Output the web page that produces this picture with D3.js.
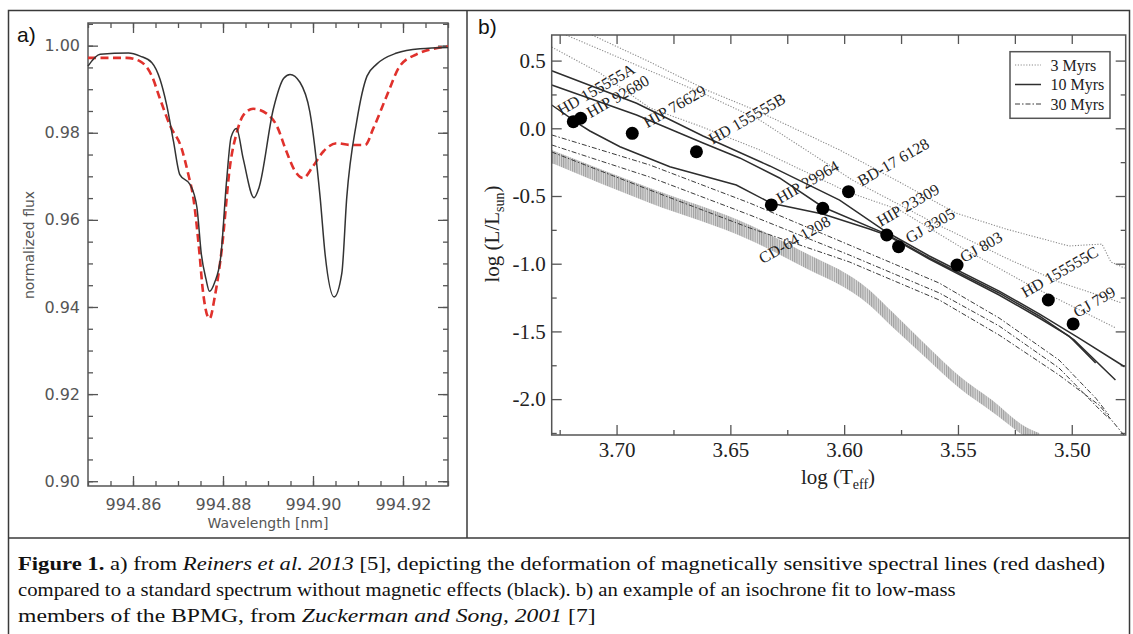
<!DOCTYPE html>
<html><head><meta charset="utf-8">
<script src="https://cdn.jsdelivr.net/npm/d3@7"></script>
<style>
html,body{margin:0;padding:0;background:#fff;}
svg{display:block;}
</style></head><body>
<svg id="fig" width="1133" height="634"></svg>
<script>
// ---------------- Panel a data (wavelength [nm], normalized flux) ----------------
const waveNoMag = [994.85,994.8527,994.859,994.8616,994.8642,994.866,994.8675,994.869,994.8704,994.8727,994.8742,994.8752,994.8762,994.877,994.8781,994.8795,994.8808,994.8818,994.883,994.8845,994.8869,994.888,994.8912,994.8935,994.8949,994.8971,994.8993,994.9016,994.9027,994.9047,994.9064,994.9075,994.9097,994.912,994.9141,994.9186,994.9238,994.93];
const fluxNoMag = [0.9953,0.998,0.9983,0.9976,0.9961,0.9923,0.9863,0.978,0.9704,0.9681,0.9629,0.952,0.9465,0.9436,0.9455,0.9515,0.969,0.979,0.981,0.974,0.9651,0.9674,0.9855,0.9925,0.9934,0.9916,0.9848,0.965,0.952,0.9423,0.9477,0.9651,0.9825,0.993,0.9957,0.9983,0.9993,0.9996];
const waveMag = [994.85,994.8586,994.8616,994.8642,994.866,994.8682,994.8708,994.8723,994.8734,994.8748,994.8755,994.877,994.8782,994.8797,994.8816,994.8831,994.8845,994.8867,994.8897,994.8919,994.8941,994.896,994.8978,994.9,994.9023,994.9053,994.9082,994.9116,994.9134,994.9164,994.9193,994.923,994.93];
const fluxMag = [0.9972,0.9972,0.9964,0.993,0.9878,0.9817,0.9764,0.9704,0.9651,0.952,0.944,0.9373,0.9425,0.953,0.9727,0.9802,0.984,0.9855,0.9844,0.9817,0.9757,0.9712,0.9696,0.9723,0.9757,0.9776,0.9772,0.9772,0.981,0.9885,0.9953,0.998,0.9998];
const waveTicks = [994.86,994.88,994.90,994.92];
const fluxTicks = [0.90,0.92,0.94,0.96,0.98,1.00];

// ---------------- Panel b data ([log Teff, log L/Lsun]) ----------------
const iso3Myr_1 = [[3.7108,0.689],[3.6854,0.490],[3.6605,0.283],[3.6371,0.120],[3.6020,-0.160],[3.5757,-0.397],[3.5509,-0.626],[3.5289,-0.744],[3.5012,-0.869],[3.4867,-0.855],[3.4828,-0.987],[3.4768,-1.032]];
const iso3Myr_2 = [[3.7222,0.689],[3.6985,0.519],[3.6605,0.246],[3.6371,0.061],[3.5964,-0.382],[3.5613,-0.692],[3.5289,-0.958],[3.5056,-1.135],[3.4780,-1.290]];
const iso3Myr_3 = [[3.7285,0.600],[3.7073,0.408],[3.6854,0.150],[3.6635,0.017],[3.6371,-0.160],[3.5985,-0.470],[3.5757,-0.603],[3.5481,-0.884],[3.5187,-1.157],[3.4806,-1.475]];
const iso10Myr_1 = [[3.7285,0.425],[3.6912,0.185],[3.6620,-0.057],[3.6327,-0.278],[3.6020,-0.530],[3.5814,-0.766],[3.5626,-0.943],[3.5319,-1.202],[3.5143,-1.371],[3.4968,-1.549],[3.4768,-1.761]];
const iso10Myr_2 = [[3.7285,0.320],[3.6912,0.098],[3.6620,-0.109],[3.6459,-0.219],[3.6284,-0.367],[3.6094,-0.581],[3.5814,-0.781],[3.5626,-0.958],[3.5319,-1.216],[3.5143,-1.386],[3.4990,-1.563],[3.4808,-1.859]];
const iso10Myr_3 = [[3.7285,0.172],[3.7158,0.024],[3.7117,-0.020],[3.6985,-0.136],[3.6766,-0.284],[3.6474,-0.419],[3.6320,-0.554],[3.6094,-0.633],[3.5889,-0.744],[3.5814,-0.789],[3.5626,-0.965],[3.5319,-1.231],[3.5143,-1.401],[3.5012,-1.534],[3.4895,-1.734]];
const iso30Myr_1 = [[3.7285,-0.049],[3.6854,-0.271],[3.6415,-0.552],[3.5977,-0.862],[3.5582,-1.143],[3.5319,-1.401],[3.5056,-1.711],[3.4894,-1.994],[3.4837,-2.117]];
const iso30Myr_2 = [[3.7285,-0.123],[3.6854,-0.360],[3.6415,-0.640],[3.5977,-0.936],[3.5582,-1.216],[3.5319,-1.460],[3.5056,-1.770],[3.4867,-2.095],[3.4828,-2.154]];
const iso30Myr_3 = [[3.7285,-0.175],[3.6854,-0.456],[3.6415,-0.736],[3.5977,-0.987],[3.5582,-1.268],[3.5319,-1.527],[3.5056,-1.822],[3.4880,-2.044],[3.4771,-2.265]];
// main-sequence band: logTeff, upper logL, lower logL
const bandT    = [3.7285,3.6854,3.6415,3.6196,3.5889,3.5788,3.5640,3.5494,3.5349,3.5202,3.5143];
const bandHigh = [-0.160,-0.441,-0.714,-0.899,-1.194,-1.357,-1.600,-1.829,-2.008,-2.206,-2.250];
const bandLow  = [-0.256,-0.552,-0.825,-1.010,-1.305,-1.467,-1.696,-1.918,-2.095,-2.280,-2.340];
// stars
const starNames = ["HD 155555A","HIP 92680","HIP 76629","HD 155555B","HIP 29964","CD-64 1208","BD-17 6128","HIP 23309","GJ 3305","GJ 803","HD 155555C","GJ 799"];
const starLogT  = [3.7190,3.7158,3.6931,3.6649,3.6320,3.6094,3.5981,3.5813,3.5761,3.5504,3.5103,3.4994];
const starLogL  = [0.049,0.074,-0.037,-0.173,-0.566,-0.591,-0.468,-0.788,-0.874,-1.010,-1.268,-1.445];
const tempTicks = [3.70,3.65,3.60,3.55,3.50];
const tempMinor = [3.725,3.675,3.625,3.575,3.525];
const lumTicks  = [0.5,0.0,-0.5,-1.0,-1.5,-2.0];
const lumMinor  = [0.25,-0.25,-0.75,-1.25,-1.75,-2.25];
const legendLabels = ["3 Myrs","10 Myrs","30 Myrs"];

// label offsets (layout, px) relative to each star
const labelOffsets = [[-12,-6],[10,0],[15,-5],[16,-7],[9,-1],[-60,56],[13,-5],[-6,-8],[11,-3],[7,-2],[-23,-2],[4,-6]];

const svg = d3.select("#fig");
const fmtMinus = f => (d => f(d).replace("\u2212","-"));

// ---------------- Figure frame ----------------
svg.append("rect").attr("x",8.5).attr("y",10.5).attr("width",1121).attr("height",660)
  .attr("fill","none").attr("stroke","#3a3a3a").attr("stroke-width",1.5);
svg.append("line").attr("x1",467).attr("x2",467).attr("y1",10).attr("y2",538).attr("stroke","#3a3a3a").attr("stroke-width",1.5);
svg.append("line").attr("x1",8).attr("x2",1130).attr("y1",538).attr("y2",538).attr("stroke","#3a3a3a").attr("stroke-width",1.5);

function styleAxis(sel, color, font, size, fill) {
  sel.attr("font-family",null).attr("font-size",null);
  sel.select(".domain").remove();
  sel.selectAll("line").attr("stroke",color).attr("stroke-width",1.3);
  sel.selectAll("text").style("font-family",font).style("font-size",size+"px").attr("fill",fill);
}

// ---------------- Panel a ----------------
const xA = d3.scaleLinear().domain([994.85,994.93]).range([88,448]);
const yA = d3.scaleLinear().domain([0.8989,1.0052]).range([486,23]);
const gA = svg.append("g");
const colA = "#555", fontA = "DejaVu Sans, sans-serif";
const waveMinor = d3.range(0,17).map(i => 994.85 + i*0.005);
const fluxMinor = d3.range(0,22).map(i => 0.90 + i*0.005);

gA.append("g").attr("transform","translate(88,0)")
  .call(d3.axisLeft(yA).tickValues(fluxTicks).tickSize(-10).tickPadding(8).tickFormat(d3.format(".2f")))
  .call(s=>styleAxis(s,colA,fontA,16,colA));
gA.append("g").attr("transform","translate(88,0)")
  .call(d3.axisLeft(yA).tickValues(fluxMinor).tickSize(-5).tickFormat(""))
  .call(s=>styleAxis(s,colA,fontA,16,colA));
gA.append("g").attr("transform","translate(448,0)")
  .call(d3.axisRight(yA).tickValues(fluxTicks).tickSize(-10).tickFormat(""))
  .call(s=>styleAxis(s,colA,fontA,16,colA));
gA.append("g").attr("transform","translate(448,0)")
  .call(d3.axisRight(yA).tickValues(fluxMinor).tickSize(-5).tickFormat(""))
  .call(s=>styleAxis(s,colA,fontA,16,colA));
gA.append("g").attr("transform","translate(0,486)")
  .call(d3.axisBottom(xA).tickValues(waveTicks).tickSize(-10).tickPadding(13).tickFormat(d3.format(".2f")))
  .call(s=>styleAxis(s,colA,fontA,16,colA));
gA.append("g").attr("transform","translate(0,486)")
  .call(d3.axisBottom(xA).tickValues(waveMinor).tickSize(-5).tickFormat(""))
  .call(s=>styleAxis(s,colA,fontA,16,colA));
gA.append("g").attr("transform","translate(0,23)")
  .call(d3.axisTop(xA).tickValues(waveTicks).tickSize(-10).tickFormat(""))
  .call(s=>styleAxis(s,colA,fontA,16,colA));
gA.append("g").attr("transform","translate(0,23)")
  .call(d3.axisTop(xA).tickValues(waveMinor).tickSize(-5).tickFormat(""))
  .call(s=>styleAxis(s,colA,fontA,16,colA));
gA.append("rect").attr("x",88).attr("y",23).attr("width",360).attr("height",463)
  .attr("fill","none").attr("stroke",colA).attr("stroke-width",1.5);

const lineA = d3.line().curve(d3.curveMonotoneX);
gA.append("path")
  .attr("d", lineA(waveMag.map((w,i)=>[xA(w),yA(fluxMag[i])])))
  .attr("fill","none").attr("stroke","#e0312c").attr("stroke-width",2.6).attr("stroke-dasharray","8,4.5");
gA.append("path")
  .attr("d", lineA(waveNoMag.map((w,i)=>[xA(w),yA(fluxNoMag[i])])))
  .attr("fill","none").attr("stroke","#333").attr("stroke-width",1.5);

gA.append("text").attr("transform","translate(34,245) rotate(-90)").attr("text-anchor","middle")
  .attr("font-family",fontA).attr("font-size",14).attr("fill",colA).text("normalized flux");
gA.append("text").attr("x",268).attr("y",528).attr("text-anchor","middle")
  .attr("font-family",fontA).attr("font-size",14).attr("fill",colA).text("Wavelength [nm]");
gA.append("text").attr("x",17).attr("y",42).attr("font-family","Liberation Sans, Arial, sans-serif")
  .attr("font-size",21).attr("fill","#111").text("a)");

// ---------------- Panel b ----------------
const xB = d3.scaleLinear().domain([3.7285,3.4763]).range([551.7,1125.7]);
const yB = d3.scaleLinear().domain([-2.265,0.689]).range([435,35]);
const gB = svg.append("g");
const colB = "#555", fontB = "'Liberation Serif', 'Times New Roman', serif";

svg.append("defs").html(
  '<clipPath id="clipB"><rect x="551.7" y="35" width="574" height="400"/></clipPath>' +
  '<pattern id="hatch" width="2.2" height="4" patternUnits="userSpaceOnUse">' +
  '<rect width="2.2" height="4" fill="#dadada"/><rect width="1.1" height="4" fill="#a0a0a0"/></pattern>');

const fmtB = fmtMinus(d3.format(".1f"));
const fmtT = d3.format(".2f");
const axB = (sel, gen) => sel.call(gen).call(s=>styleAxis(s,colB,fontB,21,"#222"));
gB.append("g").attr("transform","translate(551.7,0)")
  .call(s=>axB(s, d3.axisLeft(yB).tickValues(lumTicks).tickSize(-10).tickPadding(6).tickFormat(fmtB)));
gB.append("g").attr("transform","translate(551.7,0)")
  .call(s=>axB(s, d3.axisLeft(yB).tickValues(lumMinor.filter(v=>v>-2.265)).tickSize(-5).tickFormat("")));
gB.append("g").attr("transform","translate(1125.7,0)")
  .call(s=>axB(s, d3.axisRight(yB).tickValues(lumTicks).tickSize(-10).tickFormat("")));
gB.append("g").attr("transform","translate(1125.7,0)")
  .call(s=>axB(s, d3.axisRight(yB).tickValues(lumMinor.filter(v=>v>-2.265)).tickSize(-5).tickFormat("")));
gB.append("g").attr("transform","translate(0,435)")
  .call(s=>axB(s, d3.axisBottom(xB).tickValues(tempTicks).tickSize(-10).tickPadding(7).tickFormat(fmtT)));
gB.append("g").attr("transform","translate(0,435)")
  .call(s=>axB(s, d3.axisBottom(xB).tickValues(tempMinor).tickSize(-5).tickFormat("")));
gB.append("g").attr("transform","translate(0,35)")
  .call(s=>axB(s, d3.axisTop(xB).tickValues(tempTicks).tickSize(-9).tickFormat("")));
gB.append("g").attr("transform","translate(0,35)")
  .call(s=>axB(s, d3.axisTop(xB).tickValues(tempMinor).tickSize(-9).tickFormat("")));

const plotB = gB.append("g").attr("clip-path","url(#clipB)");
// band
const area = d3.area().x((d,i)=>xB(bandT[i])).y0((d,i)=>yB(bandLow[i])).y1((d,i)=>yB(bandHigh[i])).curve(d3.curveMonotoneX);
plotB.append("path").attr("d", area(bandT)).attr("fill","url(#hatch)").attr("stroke","none");

const lineB = d3.line().x(d=>xB(d[0])).y(d=>yB(d[1]));
const styles = {
  "3":  {stroke:"#8a8a8a", width:1.1, dash:"1.2,1.6"},
  "10": {stroke:"#2e2e2e", width:1.5, dash:null},
  "30": {stroke:"#3a3a3a", width:1.0, dash:"5,2,1.5,2"}
};
[[iso30Myr_1,"30"],[iso30Myr_2,"30"],[iso30Myr_3,"30"],
 [iso3Myr_1,"3"],[iso3Myr_2,"3"],[iso3Myr_3,"3"],
 [iso10Myr_1,"10"],[iso10Myr_2,"10"],[iso10Myr_3,"10"]].forEach(([data,k])=>{
  const st = styles[k];
  plotB.append("path").attr("d", lineB(data)).attr("fill","none")
    .attr("stroke",st.stroke).attr("stroke-width",st.width)
    .attr("stroke-dasharray",st.dash);
});

gB.append("rect").attr("x",551.7).attr("y",35).attr("width",574).attr("height",400)
  .attr("fill","none").attr("stroke",colB).attr("stroke-width",1.5);

// stars
starNames.forEach((n,i)=>{
  const cx = xB(starLogT[i]), cy = yB(starLogL[i]);
  gB.append("circle").attr("cx",cx).attr("cy",cy).attr("r",6.5).attr("fill","#000");
  const lx = cx + labelOffsets[i][0], ly = cy + labelOffsets[i][1];
  gB.append("text").attr("transform",`translate(${lx},${ly}) rotate(-30)`)
    .style("font-family",fontB).attr("font-size",16).attr("fill","#222").text(n);
});

// legend
const leg = gB.append("g");
leg.append("rect").attr("x",1010).attr("y",51.7).attr("width",100).attr("height",66.6)
  .attr("fill","#fff").attr("stroke",colB).attr("stroke-width",1.5);
legendLabels.forEach((lab,i)=>{
  const k = ["3","10","30"][i], st = styles[k];
  const yy = 65 + i*19.5;
  leg.append("line").attr("x1",1015).attr("x2",1041).attr("y1",yy).attr("y2",yy)
    .attr("stroke",st.stroke).attr("stroke-width",st.width).attr("stroke-dasharray",st.dash);
  leg.append("text").attr("x",1050.5).attr("y",yy+5.5).style("font-family",fontB)
    .attr("font-size",16).attr("fill","#222").text(lab);
});

// axis titles
const tx = gB.append("text").attr("x",838).attr("y",484).attr("text-anchor","middle")
  .style("font-family",fontB).attr("font-size",21).attr("fill","#222");
tx.append("tspan").text("log (T");
tx.append("tspan").attr("font-size",14).attr("dy",5).text("eff");
tx.append("tspan").attr("dy",-5).text(")");
const ty = gB.append("text").attr("transform","translate(499,234) rotate(-90)").attr("text-anchor","middle")
  .style("font-family",fontB).attr("font-size",21).attr("fill","#222");
ty.append("tspan").text("log (L/L");
ty.append("tspan").attr("font-size",14).attr("dy",5).text("sun");
ty.append("tspan").attr("dy",-5).text(")");
gB.append("text").attr("x",478).attr("y",34).attr("font-family","Liberation Sans, Arial, sans-serif")
  .attr("font-size",21).attr("fill","#111").text("b)");

// ---------------- Caption ----------------
const capFont = "'Liberation Serif', 'Times New Roman', serif";
const capLines = [
  {y:570, w:1088, parts:[["Figure 1.","bold",""],[" a) from ","",""],["Reiners et al. 2013","","italic"],[" [5], depicting the deformation of magnetically sensitive spectral lines (red dashed)","",""]]},
  {y:596, w:938, parts:[["compared to a standard spectrum without magnetic effects (black). b) an example of an isochrone fit to low-mass","",""]]},
  {y:622, w:578, parts:[["members of the BPMG, from ","",""],["Zuckerman and Song, 2001","","italic"],[" [7]","",""]]}
];
capLines.forEach(l=>{
  const t = svg.append("text").attr("x",18).attr("y",l.y).style("font-family",capFont)
    .attr("font-size",18).attr("fill","#111").attr("xml:space","preserve");
  l.parts.forEach(p=>{
    t.append("tspan").attr("font-weight",p[1]||null).attr("font-style",p[2]||null).text(p[0]);
  });
  const bw = t.node().getComputedTextLength();
  if (bw>0) t.attr("transform",`translate(18,0) scale(${l.w/bw},1) translate(-18,0)`);
});
</script></body></html>
